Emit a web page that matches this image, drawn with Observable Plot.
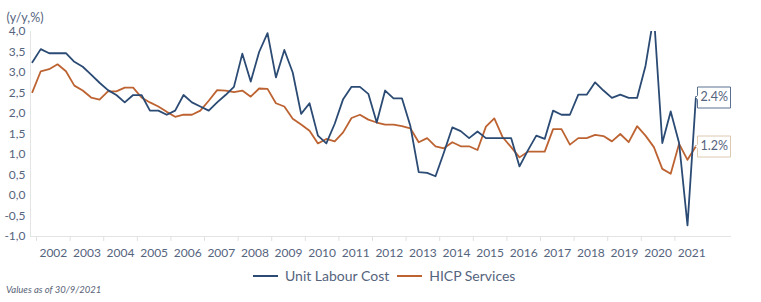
<!DOCTYPE html>
<html><head><meta charset="utf-8">
<script src="https://cdn.jsdelivr.net/npm/d3@7"></script>
<script src="https://cdn.jsdelivr.net/npm/@observablehq/plot@0.6"></script>
<style>
body{margin:0;background:#fff;}
#wrap{position:relative;width:761px;height:302px;font-family:Lato,"Noto Sans",sans-serif;color:#55647d;overflow:hidden;}
#wrap svg{display:block;}
.legend{position:absolute;top:267px;left:253px;display:flex;align-items:center;font-size:14px;color:#55647d;white-space:nowrap;}
.sw{display:inline-block;width:25px;height:2px;margin-right:7px;}
.item{display:flex;align-items:center;margin-right:8px;}
.caption{position:absolute;top:284px;left:6px;font-size:9.5px;font-style:italic;color:#5a6478;}
</style></head><body><div id="wrap"></div>
<script>
// Quarterly data, first point = 2001 Q4, last point = 2021 Q3 (placed at quarter centres)
const firstQuarterCentre = 2001.875;
const unitLabourCost = [
  3.25,
  3.57, 3.47, 3.47, 3.47,
  3.26, 3.14, 2.95, 2.75,
  2.57, 2.45, 2.27, 2.45,
  2.45, 2.07, 2.07, 1.97,
  2.07, 2.45, 2.27, 2.17,
  2.07, 2.27, 2.45, 2.65,
  3.46, 2.78, 3.50, 3.96,
  2.88, 3.55, 3.00, 1.99,
  2.25, 1.46, 1.27, 1.75,
  2.35, 2.65, 2.65, 2.48,
  1.78, 2.56, 2.37, 2.37,
  1.70, 0.57, 0.55, 0.47,
  1.05, 1.66, 1.57, 1.40,
  1.56, 1.40, 1.40, 1.40,
  1.40, 0.71, 1.10, 1.46,
  1.38, 2.07, 1.97, 1.97,
  2.46, 2.46, 2.76, 2.56,
  2.38, 2.46, 2.38, 2.38,
  3.16, 4.40, 1.28, 2.05,
  1.28, -0.73, 2.40
];
const hicpServices = [
  2.52,
  3.03, 3.08, 3.20, 3.03,
  2.68, 2.56, 2.39, 2.34,
  2.54, 2.54, 2.63, 2.63,
  2.39, 2.27, 2.17, 2.04,
  1.92, 1.97, 1.97, 2.07,
  2.31, 2.57, 2.56, 2.52,
  2.56, 2.41, 2.61, 2.60,
  2.25, 2.17, 1.87, 1.73,
  1.58, 1.27, 1.38, 1.32,
  1.54, 1.89, 1.97, 1.85,
  1.78, 1.73, 1.73, 1.69,
  1.64, 1.30, 1.40, 1.20,
  1.15, 1.30, 1.20, 1.20,
  1.11, 1.68, 1.88, 1.42,
  1.18, 0.93, 1.07, 1.07,
  1.07, 1.62, 1.62, 1.24,
  1.40, 1.40, 1.48, 1.45,
  1.32, 1.50, 1.30, 1.69,
  1.46, 1.18, 0.65, 0.53,
  1.26, 0.87, 1.20
];
const yearTicks = [2002,2003,2004,2005,2006,2007,2008,2009,2010,2011,2012,2013,2014,2015,2016,2017,2018,2019,2020,2021];
const yTicks = [-1,-0.5,0,0.5,1,1.5,2,2.5,3,3.5,4];
const seriesNames = ["Unit Labour Cost", "HICP Services"];
const seriesColors = ["#2b4b74", "#bd6332"];
const endLabels = ["2.4%", "1.2%"];

const ulcRows = unitLabourCost.map((v, i) => ({t: firstQuarterCentre + i / 4, v}));
const hicpRows = hicpServices.map((v, i) => ({t: firstQuarterCentre + i / 4, v}));

const font = "Lato, 'Noto Sans', sans-serif";
const grey = "#55647d";

const plot = Plot.plot({
  width: 761,
  height: 262,
  marginLeft: 30,
  marginRight: 31,
  marginTop: 31,
  marginBottom: 26,
  style: {fontFamily: font, color: grey, background: "#fff", overflow: "visible"},
  x: {domain: [2001.82, 2022.655], axis: null},
  y: {domain: [-1, 4], axis: null},
  marks: [
    Plot.frame({anchor: "left", stroke: "#e4e4e4"}),
    Plot.frame({anchor: "bottom", stroke: "#e4e4e4"}),
    Plot.ruleX(yearTicks, {x: d => d, y1: -1, y2: -1.12, stroke: "#e0e0e0"}),
    Plot.axisX(yearTicks.map(d => d + 0.5), {tickSize: 0, tickPadding: 12, fontSize: 12, fill: grey, label: null, tickFormat: d => String(Math.floor(d))}),
    Plot.axisY(yTicks, {tickSize: 0, tickPadding: 5, fontSize: 12, fill: grey, label: null, tickFormat: d => d.toFixed(1).replace(".", ",")}),
    Plot.text(["(y/y,%)"], {frameAnchor: "top-left", dx: -24, dy: -18, textAnchor: "start", fontSize: 12.5, fill: grey}),
    Plot.line(hicpRows, {x: "t", y: "v", stroke: seriesColors[1], strokeWidth: 1.8, clip: true}),
    Plot.line(ulcRows, {x: "t", y: "v", stroke: seriesColors[0], strokeWidth: 1.8, clip: true}),
    Plot.tip([ulcRows[ulcRows.length - 1]], {x: "t", y: "v", title: () => endLabels[0], anchor: "left", stroke: "#5a7090", fill: "white", pointerSize: 4, textPadding: 3, fontSize: 12.5, pathFilter: "none", ariaLabel: "tip-ulc"}),
    Plot.tip([hicpRows[hicpRows.length - 1]], {x: "t", y: "v", title: () => endLabels[1], anchor: "left", stroke: "#dccab0", fill: "white", pointerSize: 4, textPadding: 3, fontSize: 12.5, pathFilter: "none", ariaLabel: "tip-hicp"})
  ]
});

d3.select(plot).selectAll('g[aria-label="tip-ulc"] text').attr("fill", "#3f5a7e").attr("stroke", "none");
d3.select(plot).selectAll('g[aria-label="tip-hicp"] text').attr("fill", "#b09474").attr("stroke", "none");

const wrap = document.getElementById("wrap");
wrap.appendChild(plot);

const legend = document.createElement("div");
legend.className = "legend";
seriesNames.forEach((name, i) => {
  const item = document.createElement("span");
  item.className = "item";
  const sw = document.createElement("span");
  sw.className = "sw";
  sw.style.background = seriesColors[i];
  item.appendChild(sw);
  item.appendChild(document.createTextNode(name));
  legend.appendChild(item);
});
wrap.appendChild(legend);

const cap = document.createElement("div");
cap.className = "caption";
cap.textContent = "Values as of 30/9/2021";
wrap.appendChild(cap);
</script>
</body></html>
